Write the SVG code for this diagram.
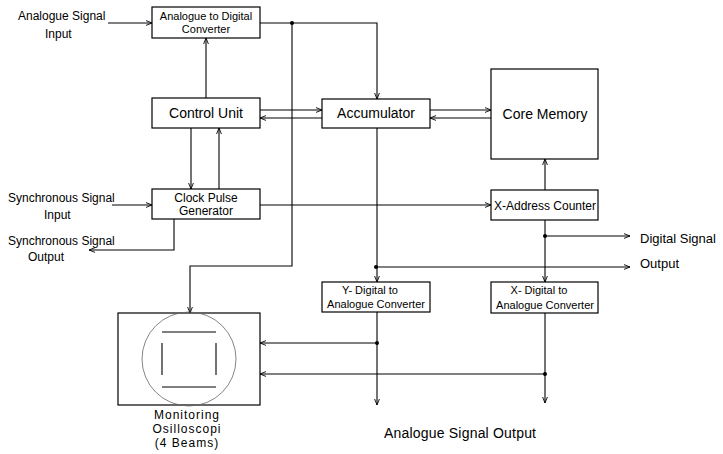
<svg xmlns="http://www.w3.org/2000/svg" width="723" height="454" viewBox="0 0 723 454">
<defs>
<marker id="ar" viewBox="0 0 10 10" refX="10" refY="5" markerWidth="6" markerHeight="6" orient="auto" markerUnits="userSpaceOnUse">
<path d="M0,1 L10,5 L0,9" fill="none" stroke="#000" stroke-width="1.5"/>
</marker>
</defs>
<style>
.box{fill:#fff;stroke:#000;stroke-width:1.2}
.ln{fill:none;stroke:#000;stroke-width:1.1}
.t{font-family:"Liberation Sans",Arial,sans-serif;font-size:12px;fill:#000}
.s{font-family:"Liberation Sans",Arial,sans-serif;font-size:11px;fill:#000}
.tm{font-family:"Liberation Sans",Arial,sans-serif;font-size:14px;fill:#000}
.m13{font-family:"Liberation Sans",Arial,sans-serif;font-size:13px;fill:#000}
.os{font-family:"Liberation Sans",Arial,sans-serif;font-size:12px;letter-spacing:1px;fill:#000}
.c{text-anchor:middle}
.dot{fill:#000}
</style>
<rect width="723" height="454" fill="#fff"/>
<g id="connectors">
<path class="ln" d="M108,23 H152" marker-end="url(#ar)"/>
<path class="ln" d="M260,23 H377 V99" marker-end="url(#ar)"/>
<path class="ln" d="M292,23 V266 H190 V313" marker-end="url(#ar)"/>
<path class="ln" d="M206,98 V38" marker-end="url(#ar)"/>
<path class="ln" d="M260,110 H322" marker-end="url(#ar)"/>
<path class="ln" d="M322,118 H260" marker-end="url(#ar)"/>
<path class="ln" d="M430,110 H491" marker-end="url(#ar)"/>
<path class="ln" d="M491,118 H430" marker-end="url(#ar)"/>
<path class="ln" d="M191,128 V189" marker-end="url(#ar)"/>
<path class="ln" d="M219,189 V128" marker-end="url(#ar)"/>
<path class="ln" d="M112,205 H152" marker-end="url(#ar)"/>
<path class="ln" d="M174,219 V250 H89" marker-end="url(#ar)"/>
<path class="ln" d="M260,205 H491" marker-end="url(#ar)"/>
<path class="ln" d="M545,190 V159" marker-end="url(#ar)"/>
<path class="ln" d="M545,220 V282" marker-end="url(#ar)"/>
<path class="ln" d="M545,236 H630" marker-end="url(#ar)"/>
<path class="ln" d="M376,267 H630" marker-end="url(#ar)"/>
<path class="ln" d="M377,128 V282" marker-end="url(#ar)"/>
<path class="ln" d="M377,312 V405" marker-end="url(#ar)"/>
<path class="ln" d="M377,343 H260" marker-end="url(#ar)"/>
<path class="ln" d="M545,313 V403" marker-end="url(#ar)"/>
<path class="ln" d="M545,374 H260" marker-end="url(#ar)"/>
<circle class="dot" cx="292" cy="23" r="2"/>
<circle class="dot" cx="376" cy="267" r="2"/>
<circle class="dot" cx="545" cy="236" r="2"/>
<circle class="dot" cx="377" cy="343" r="2"/>
<circle class="dot" cx="545" cy="374" r="2"/>
</g>
<g id="adc">
<rect class="box" x="152" y="7" width="108" height="31"/>
<text class="s c" x="206" y="20">Analogue to Digital</text>
<text class="s c" x="206" y="33">Converter</text>
</g>
<g id="control-unit">
<rect class="box" x="152" y="98" width="108" height="30"/>
<text class="tm c" x="206" y="118">Control Unit</text>
</g>
<g id="accumulator">
<rect class="box" x="322" y="99" width="108" height="29"/>
<text class="tm c" x="376" y="118">Accumulator</text>
</g>
<g id="core-memory">
<rect class="box" x="491" y="69" width="107" height="90"/>
<text class="tm c" x="545" y="119">Core Memory</text>
</g>
<g id="clock-pulse">
<rect class="box" x="152" y="189" width="108" height="30"/>
<text class="t c" x="206" y="202">Clock Pulse</text>
<text class="t c" x="206" y="215">Generator</text>
</g>
<g id="x-address">
<rect class="box" x="491" y="190" width="107" height="30"/>
<text class="t c" x="545" y="210">X-Address Counter</text>
</g>
<g id="y-dac">
<rect class="box" x="322" y="282" width="108" height="30"/>
<text class="s c" x="370" y="294">Y- Digital to</text>
<text class="s c" x="376" y="308">Analogue Converter</text>
</g>
<g id="x-dac">
<rect class="box" x="491" y="282" width="107" height="31"/>
<text class="s c" x="539" y="294">X- Digital to</text>
<text class="s c" x="545" y="309">Analogue Converter</text>
</g>
<g id="oscilloscope">
<rect class="box" x="118" y="313" width="142" height="92"/>
<circle cx="189" cy="359" r="47" fill="none" stroke="#666" stroke-width="0.8"/>
<path class="ln" d="M162,332 H216 M162,387 H216 M162,343 V375 M216,343 V375"/>
<text class="os c" x="187" y="419">Monitoring</text>
<text class="os c" x="187" y="433">Osilloscopi</text>
<text class="os c" x="187" y="447">(4 Beams)</text>
</g>
<g id="labels">
<text class="t" x="18" y="20">Analogue Signal</text>
<text class="t" x="45" y="38">Input</text>
<text class="t" x="8" y="202">Synchronous Signal</text>
<text class="t" x="44" y="219">Input</text>
<text class="t" x="8" y="245">Synchronous Signal</text>
<text class="t" x="28" y="261">Output</text>
<text class="m13" x="640" y="243">Digital Signal</text>
<text class="m13" x="640" y="268">Output</text>
<text class="tm" x="384" y="438" textLength="152">Analogue Signal Output</text>
</g>
</svg>
